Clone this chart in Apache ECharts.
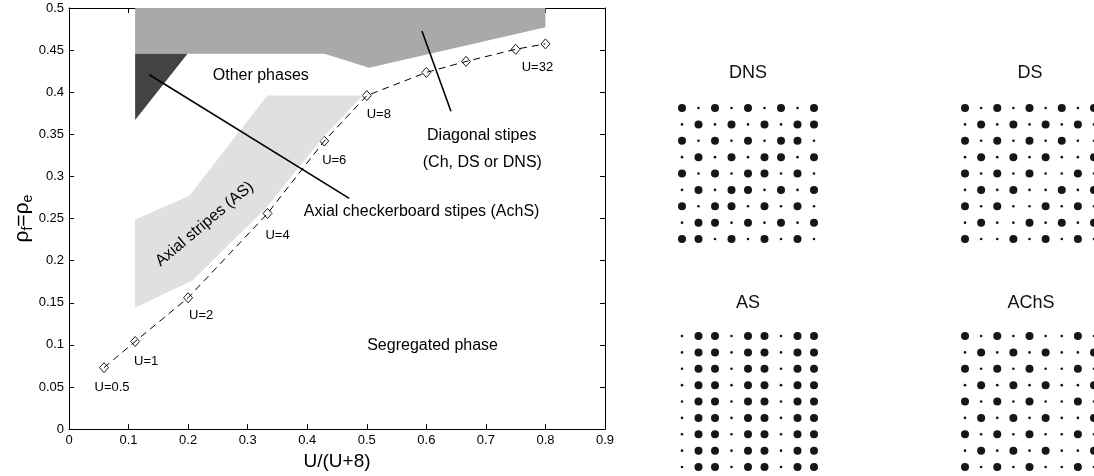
<!DOCTYPE html>
<html>
<head>
<meta charset="utf-8">
<script src="https://cdn.jsdelivr.net/npm/echarts@6/dist/echarts.min.js"></script>
<style>html,body{margin:0;padding:0;background:#fff}#c{width:1094px;height:476px}</style>
</head>
<body>
<div id="c"></div>
<script>
// ---------- data ----------
const uValues   = [0.5, 1, 2, 4, 6, 8, 12, 16, 24, 32];
const rhoValues = [0.073, 0.104, 0.156, 0.256, 0.342, 0.396, 0.4235, 0.4366, 0.451, 0.4574];
const uLabels   = ['U=0.5', 'U=1', 'U=2', 'U=4', 'U=6', 'U=8', '', '', '', 'U=32'];

const xTicks = [0, 0.9, 0.1];      // min, max, step
const yTicks = [0, 0.5, 0.05];

// phase regions (x = U/(U+8), y = rho)
const otherPhasesRegion = [[0.111,0.5],[0.8,0.5],[0.8,0.477],[0.504,0.429],[0.429,0.4456],[0.111,0.4456]];
const darkRegion        = [[0.111,0.4456],[0.199,0.4456],[0.111,0.367]];
const axialStripeRegion = [[0.111,0.144],[0.207,0.1765],[0.33,0.262],[0.425,0.345],[0.493,0.396],[0.333,0.396],[0.202,0.277],[0.111,0.249]];

// pointer lines
const pointerAChS     = [[0.135,0.4208],[0.4706,0.274]];
const pointerDiagonal = [[0.5926,0.4728],[0.6413,0.3774]];

// text notes
const noteTexts = ['Other phases','Diagonal stipes','(Ch, DS or DNS)','Axial checkerboard stipes (AchS)','Segregated phase','Axial stripes (AS)'];
const notePos   = [[0.322,0.4196],[0.693,0.348],[0.694,0.3164],[0.592,0.2577],[0.6105,0.0996],[0.2277,0.2435]];
const noteRot   = [0,0,0,0,0,40];

// lattice patterns (1 = large dot, 0 = small dot), rows top->bottom
const patternTitles = ['DNS','DS','AS','AChS'];
const patternDNS = [
 [1,0,1,0,1,0,1,0,1],
 [0,1,0,1,0,1,0,1,1],
 [1,0,1,0,1,0,1,1,0],
 [0,1,0,1,0,1,1,0,1],
 [1,0,1,0,1,1,0,1,0],
 [0,1,0,1,1,0,1,0,1],
 [1,0,1,1,0,1,0,1,0],
 [0,1,1,0,1,0,1,0,1],
 [1,1,0,1,0,1,0,1,0]];
const patternDS = [
 [1,0,1,0,1,0,1,0,1],
 [0,1,0,1,0,1,0,1,0],
 [1,0,1,0,1,0,1,0,0],
 [0,1,0,1,0,1,0,0,1],
 [1,0,1,0,1,0,0,1,0],
 [0,1,0,1,0,0,1,0,1],
 [1,0,1,0,0,1,0,1,0],
 [0,1,0,0,1,0,1,0,1],
 [1,0,0,1,0,1,0,1,0]];
const patternAS = [
 [0,1,1,0,1,1,0,1,1],
 [0,1,1,0,1,1,0,1,1],
 [0,1,1,0,1,1,0,1,1],
 [0,1,1,0,1,1,0,1,1],
 [0,1,1,0,1,1,0,1,1],
 [0,1,1,0,1,1,0,1,1],
 [0,1,1,0,1,1,0,1,1],
 [0,1,1,0,1,1,0,1,1],
 [0,1,1,0,1,1,0,1,1]];
const patternAChS = [
 [1,0,1,0,1,0,0,1,0],
 [0,1,0,1,0,1,0,0,1],
 [1,0,1,0,1,0,0,1,0],
 [0,1,0,1,0,1,0,0,1],
 [1,0,1,0,1,0,0,1,0],
 [0,1,0,1,0,1,0,0,1],
 [1,0,1,0,1,0,0,1,0],
 [0,1,0,1,0,1,0,0,1],
 [1,0,1,0,1,0,0,1,0]];

// ---------- styling / layout ----------
const FONT = '"Liberation Sans", Arial, Helvetica, sans-serif';
const labelOffsets = [[8,20],[11,20],[13,18],[10,22],[10,19],[12,19],[0,0],[0,0],[0,0],[-8,24]];
const panelGrids = [
  {left:682, top:108, width:132, height:131},
  {left:965, top:108, width:132, height:131},
  {left:682, top:336, width:132, height:131},
  {left:965, top:336, width:132, height:131}];
const panelTitlePos = [[748,73],[1030,73],[748,303],[1031,303]];

const chart = echarts.init(document.getElementById('c'), null, {renderer:'canvas'});

function polygonSeries(points, color, z) {
  return {
    type:'custom', xAxisIndex:0, yAxisIndex:0, z:z, silent:true,
    data:[[points[0][0], points[0][1]]],
    renderItem:(params, api) => ({
      type:'polygon',
      shape:{points: points.map(p => api.coord(p))},
      style:{fill:color, stroke:null}
    })
  };
}
function pointerSeries(pts) {
  return {type:'line', xAxisIndex:0, yAxisIndex:0, z:6, data:pts, symbol:'none', silent:true,
          lineStyle:{color:'#000', width:1.6}};
}

const mainAxisLine = {onZero:false, lineStyle:{color:'#000', width:1}};
const mainTick = {inside:true, length:5, lineStyle:{color:'#000', width:1}};

const xAxes = [
  {gridIndex:0, type:'value', min:xTicks[0], max:xTicks[1], interval:xTicks[2], position:'bottom',
   axisLine:mainAxisLine, axisTick:mainTick, splitLine:{show:false},
   axisLabel:{color:'#000', fontSize:13, fontFamily:FONT, margin:5},
   name:'U/(U+8)', nameLocation:'middle', nameGap:20,
   nameTextStyle:{color:'#000', fontSize:19, fontFamily:FONT}},
  {gridIndex:0, type:'value', min:xTicks[0], max:xTicks[1], interval:xTicks[2], position:'top',
   axisLine:mainAxisLine, axisTick:mainTick, splitLine:{show:false}, axisLabel:{show:false}}
];
const yAxes = [
  {gridIndex:0, type:'value', min:yTicks[0], max:yTicks[1], interval:yTicks[2], position:'left',
   axisLine:mainAxisLine, axisTick:mainTick, splitLine:{show:false},
   axisLabel:{color:'#000', fontSize:13, fontFamily:FONT, margin:5},
   name:'{r|ρ}{s|f}{r|=ρ}{s|e}', nameLocation:'middle', nameGap:28, nameRotate:90,
   nameTextStyle:{color:'#000', fontFamily:FONT,
     rich:{r:{fontSize:21, fontFamily:FONT, color:'#000', lineHeight:26},
           s:{fontSize:14, fontFamily:FONT, color:'#000', lineHeight:26, padding:[11,0,0,0]}}}},
  {gridIndex:0, type:'value', min:yTicks[0], max:yTicks[1], interval:yTicks[2], position:'right',
   axisLine:mainAxisLine, axisTick:mainTick, splitLine:{show:false}, axisLabel:{show:false}}
];

const patterns = [patternDNS, patternDS, patternAS, patternAChS];
const panelSeries = [];
patterns.forEach((pat, k) => {
  xAxes.push({gridIndex:k+1, type:'value', min:0, max:8, show:false});
  yAxes.push({gridIndex:k+1, type:'value', min:0, max:8, inverse:true, show:false});
  const d = [];
  pat.forEach((row, i) => row.forEach((v, j) => d.push([j, i, v])));
  panelSeries.push({
    type:'scatter', xAxisIndex:k+2, yAxisIndex:k+2, data:d, silent:true,
    symbol:'circle', symbolSize:(v) => v[2] ? 8 : 2.6,
    itemStyle:{color:'#161616', opacity:1}
  });
});

const xs = uValues.map(u => u / (u + 8));
const curveData = xs.map((x, i) => ({
  value:[x, rhoValues[i]],
  label:{show: uLabels[i] !== '', formatter: uLabels[i], offset: labelOffsets[i]}
}));

const option = {
  animation:false,
  backgroundColor:'#ffffff',
  textStyle:{fontFamily:FONT},
  grid:[{left:69, top:8, width:536, height:423}].concat(panelGrids),
  xAxis:xAxes,
  yAxis:yAxes,
  graphic: patternTitles.map((t, k) => ({
    type:'text', x:panelTitlePos[k][0], y:panelTitlePos[k][1], silent:true,
    style:{text:t, fill:'#111', fontSize:18, fontFamily:FONT, align:'center', verticalAlign:'middle'}
  })),
  series:[
    {type:'line', xAxisIndex:0, yAxisIndex:0, z:2, data:curveData, silent:true,
     symbol:'diamond', symbolSize:[9,10], showAllSymbol:true,
     itemStyle:{color:'rgba(0,0,0,0)', borderColor:'#000', borderWidth:0.9},
     lineStyle:{color:'#000', width:1, type:[7,5]},
     label:{position:'inside', align:'center', verticalAlign:'middle', color:'#000', fontSize:13, fontFamily:FONT}},
    polygonSeries(otherPhasesRegion, '#a9a9a9', 3),
    polygonSeries(darkRegion, '#434343', 3),
    polygonSeries(axialStripeRegion, '#e0e0e0', 3),
    pointerSeries(pointerAChS),
    pointerSeries(pointerDiagonal),
    {type:'custom', xAxisIndex:0, yAxisIndex:0, z:8, silent:true,
     data: notePos.map((p, i) => [p[0], p[1], i]),
     renderItem:(params, api) => {
       const i = api.value(2);
       const pt = api.coord([api.value(0), api.value(1)]);
       return {type:'text', x:pt[0], y:pt[1], rotation: noteRot[i] * Math.PI / 180,
               style:{text:noteTexts[i], fill:'#000', fontSize:16, fontFamily:FONT, align:'center', verticalAlign:'middle'}};
     }}
  ].concat(panelSeries)
};
chart.setOption(option);
</script>
</body>
</html>
